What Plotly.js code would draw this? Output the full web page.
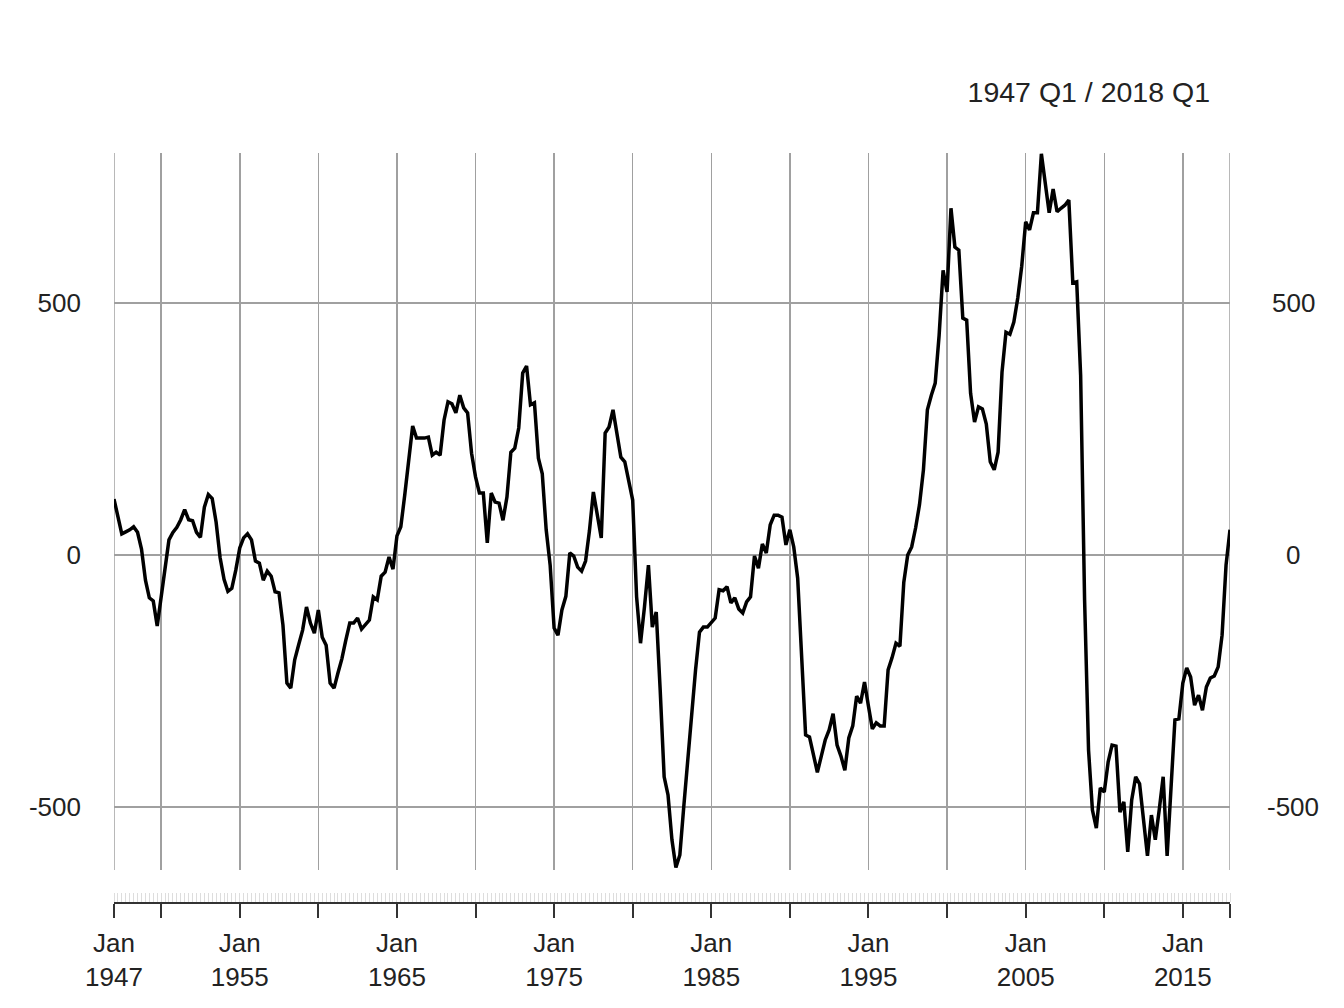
<!DOCTYPE html>
<html>
<head>
<meta charset="utf-8">
<script src="https://cdn.plot.ly/plotly-3.0.1.min.js"></script>
<style>html,body{margin:0;padding:0;background:#fff;}#chart{width:1344px;height:1008px;}</style>
</head>
<body>
<div id="chart"></div>
<script>
// Quarterly series, 1947 Q1 .. 2018 Q1
var startYear = 1947;
var v1947_1956 = [111, 75, 42, 46, 50, 56, 45, 12, -50, -85, -91, -141, -85, -35, 30, 45, 55, 70, 90, 70,
                  68, 45, 35, 95, 120, 112, 65, -5, -48, -72, -66, -30, 14, 34, 42, 30, -12, -16, -50, -32];
var v1957_1966 = [-42, -73, -75, -139, -254, -264, -208, -178, -149, -103, -135, -155, -109, -163, -179, -254, -264, -234, -206, -169,
                  -135, -135, -125, -147, -139, -129, -83, -89, -42, -34, -4, -28, 38, 56, 119, 188, 256, 232, 232, 232];
var v1967_1976 = [234, 198, 204, 198, 268, 304, 300, 282, 317, 292, 282, 202, 155, 123, 123, 24, 123, 105, 103, 69,
                  115, 204, 212, 252, 361, 375, 298, 302, 192, 161, 50, -20, -145, -159, -109, -82, 4, -2, -24, -32];
var v1977_1986 = [-12, 48, 125, 79, 34, 242, 254, 288, 242, 194, 185, 149, 109, -83, -175, -103, -20, -143, -113, -268,
                  -440, -476, -565, -620, -595, -500, -407, -327, -228, -153, -143, -143, -133, -125, -69, -71, -63, -95, -85, -107];
var v1987_1996 = [-115, -93, -83, -2, -26, 22, 4, 60, 79, 79, 75, 20, 50, 16, -46, -218, -357, -361, -397, -431,
                  -399, -367, -347, -315, -377, -399, -427, -363, -339, -280, -294, -252, -300, -345, -333, -339, -339, -228, -204, -175];
var v1997_2006 = [-181, -54, 0, 16, 54, 100, 169, 288, 317, 341, 436, 565, 522, 688, 611, 605, 470, 466, 321, 264,
                  294, 290, 260, 185, 169, 204, 363, 442, 438, 462, 510, 573, 661, 645, 679, 679, 796, 734, 679, 726];
var v2007_2016 = [681, 688, 694, 704, 540, 542, 357, -89, -387, -506, -542, -462, -470, -411, -377, -379, -510, -490, -589, -486,
                  -440, -454, -526, -597, -516, -565, -506, -440, -597, -466, -327, -325, -254, -224, -242, -298, -278, -308, -262, -244];
var v2017_2018 = [-240, -222, -159, -20, 50];

var values = [].concat(v1947_1956, v1957_1966, v1967_1976, v1977_1986, v1987_1996, v1997_2006, v2007_2016, v2017_2018);

// quarter dates (categories)
var quarterMonths = ['01', '04', '07', '10'];
var quarterLabels = ['Q1', 'Q2', 'Q3', 'Q4'];
var dates = [], qnames = [];
for (var i = 0; i < values.length; i++) {
  var yr = startYear + Math.floor(i / 4);
  dates.push(yr + '-' + quarterMonths[i % 4] + '-01');
  qnames.push(yr + ' ' + quarterLabels[i % 4]);
}

// x tick marks
var xTickVals = ['1947-01-01', '1950-01-01', '1955-01-01', '1960-01-01', '1965-01-01', '1970-01-01', '1975-01-01',
                 '1980-01-01', '1985-01-01', '1990-01-01', '1995-01-01', '2000-01-01', '2005-01-01', '2010-01-01',
                 '2015-01-01', '2018-01-01'];
var xTickText = ['Jan<br>1947', '', 'Jan<br>1955', '', 'Jan<br>1965', '', 'Jan<br>1975', '', 'Jan<br>1985', '',
                 'Jan<br>1995', '', 'Jan<br>2005', '', 'Jan<br>2015', ''];
// y ticks
var yTickVals = [-500, 0, 500];
var yTickText = ['-500', '0', '500'];
var rangeTitle = qnames[0] + ' / ' + qnames[qnames.length - 1];

var fontFam = 'Liberation Sans, Arial, Helvetica, sans-serif';
var txtCol = '#222222';
var gridCol = 'rgb(160,160,160)';

var trace = {
  x: dates, y: values, text: qnames,
  type: 'scatter', mode: 'lines',
  line: {color: '#000000', width: 3.5},
  hoverinfo: 'text+y', showlegend: false
};

var annotations = yTickVals.map(function (v, k) {
  return {xref: 'paper', yref: 'y', x: 1.0565, y: v, text: yTickText[k], showarrow: false,
          xanchor: 'center', yanchor: 'middle', font: {family: fontFam, size: 26, color: txtCol}};
});

// edge grid lines (first and last tick), which plotly omits at the plot border
var edgeShapes = [xTickVals[0], xTickVals[xTickVals.length - 1]].map(function (d) {
  return {type: 'line', xref: 'x', yref: 'y domain', x0: d, x1: d, y0: 0, y1: 1,
          layer: 'below', line: {color: gridCol, width: 1.5}};
});

var layout = {
  width: 1344, height: 1008,
  paper_bgcolor: '#ffffff', plot_bgcolor: '#ffffff',
  margin: {l: 114, r: 114, t: 153, b: 90, pad: 0},
  font: {family: fontFam, color: txtCol},
  title: {text: rangeTitle, font: {family: fontFam, size: 28.5, color: txtCol},
          xref: 'container', yref: 'container', x: 0.9003, xanchor: 'right', y: 0.9087, yanchor: 'middle'},
  xaxis: {
    type: 'date', range: [dates[0], dates[dates.length - 1]],
    tickmode: 'array', tickvals: xTickVals, ticktext: xTickText,
    ticks: 'outside', ticklen: 14, tickwidth: 2, tickcolor: '#333333',
    showline: true, linecolor: '#333333', linewidth: 2,
    showgrid: true, gridcolor: gridCol, gridwidth: 1.5,
    zeroline: false, anchor: 'free', position: 0.0196,
    ticklabelstandoff: 3,
    tickfont: {family: fontFam, size: 26, color: txtCol},
    minor: {ticks: 'inside', ticklen: 9, tickwidth: 1, tickcolor: '#dddddd', dtick: 'M3', tick0: '1947-01-01', showgrid: false},
    fixedrange: true
  },
  yaxis: {
    domain: [0.0627, 1], range: [-625, 797.6],
    tickmode: 'array', tickvals: yTickVals, ticktext: yTickText,
    ticks: '', showline: false, zeroline: false,
    showgrid: true, gridcolor: gridCol, gridwidth: 1.5,
    ticklabelstandoff: 32,
    tickfont: {family: fontFam, size: 26, color: txtCol},
    fixedrange: true
  },
  shapes: edgeShapes,
  annotations: annotations
};

Plotly.newPlot('chart', [trace], layout, {displayModeBar: false, staticPlot: true});
</script>
</body>
</html>
